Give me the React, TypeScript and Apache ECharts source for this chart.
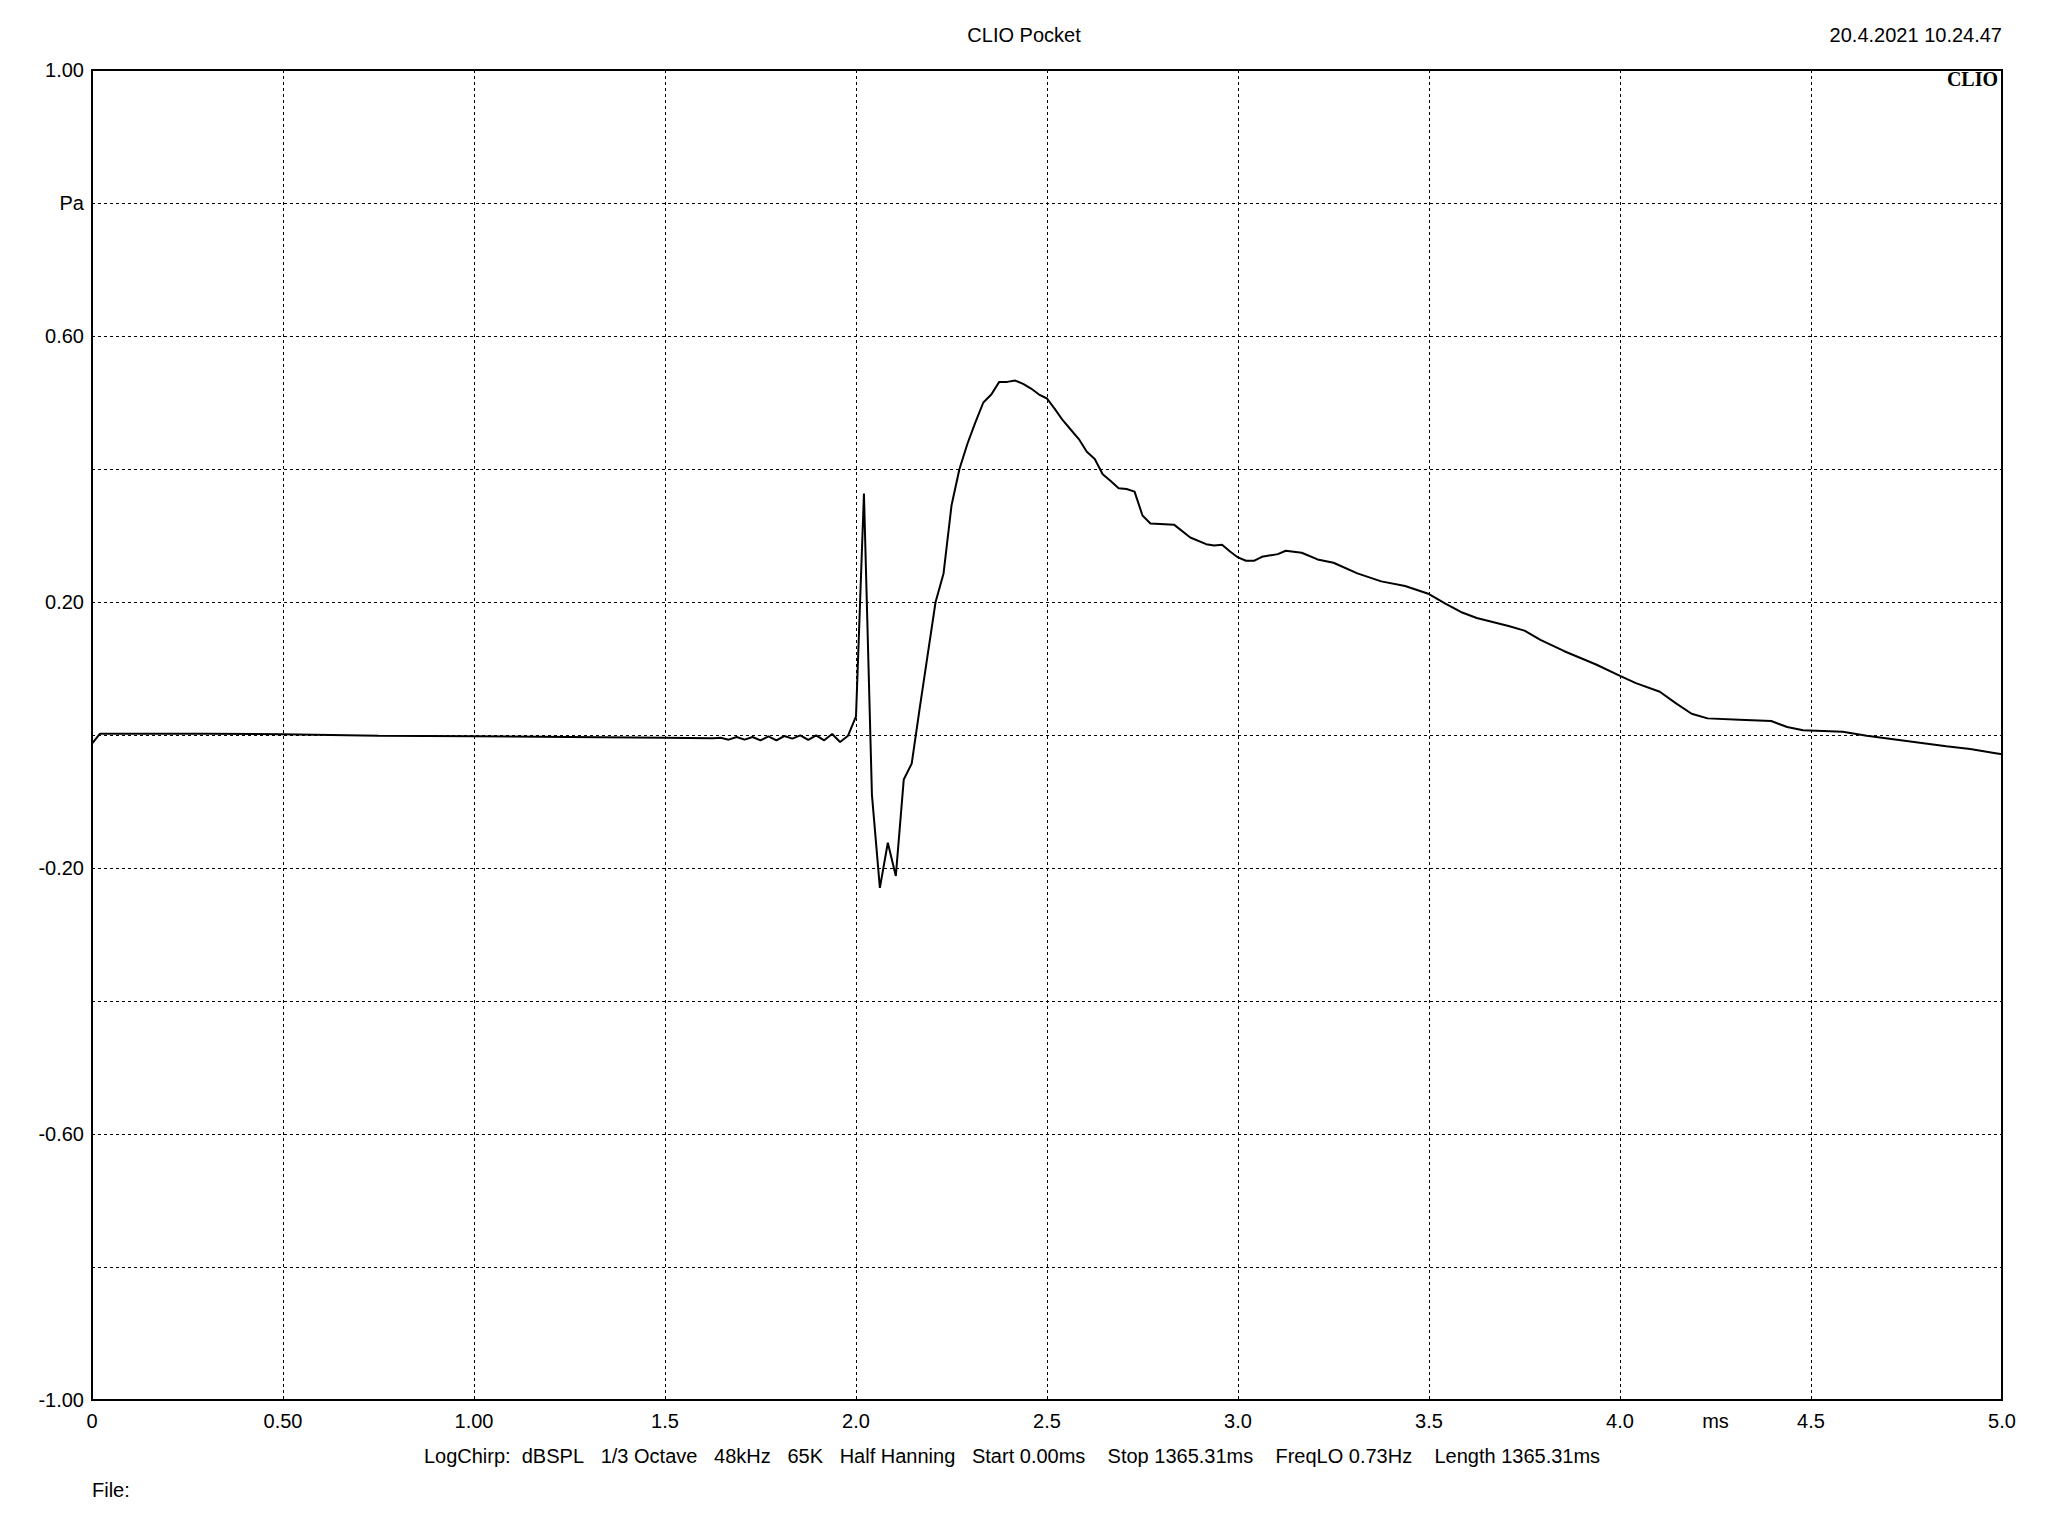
import React, { useEffect, useRef } from "react";
import * as echarts from "echarts";

// Impulse response samples (time in ms, pressure in Pa)
const timeMs: number[] = [
  0.0, 0.021, 0.1, 0.3, 0.5, 0.75, 1.0, 1.25, 1.5, 1.625,
  1.6458, 1.6667, 1.6875, 1.7083, 1.7292, 1.75, 1.7708, 1.7917, 1.8125, 1.8333,
  1.8542, 1.875, 1.8958, 1.9167, 1.9375, 1.9583, 1.9792, 2.0, 2.0208, 2.0417,
  2.0625, 2.0833, 2.1042, 2.125, 2.1458, 2.1667, 2.1875, 2.2083, 2.2292, 2.25,
  2.2708, 2.2917, 2.3125, 2.3333, 2.3542, 2.375, 2.3958, 2.4167, 2.4375, 2.4583,
  2.4792, 2.5, 2.5208, 2.5417, 2.5625, 2.5833, 2.6042, 2.625, 2.6458, 2.6667,
  2.6875, 2.7083, 2.7292, 2.75, 2.7708, 2.8333, 2.875, 2.9167, 2.9375, 2.9583,
  2.9792, 3.0, 3.0208, 3.0417, 3.0625, 3.1042, 3.125, 3.1667, 3.2083, 3.25,
  3.3125, 3.375, 3.4375, 3.5, 3.5417, 3.5833, 3.625, 3.7083, 3.75, 3.7917,
  3.8542, 3.9375, 4.0, 4.0417, 4.1042, 4.1458, 4.1875, 4.2292, 4.3125, 4.3958,
  4.4375, 4.4792, 4.5833, 4.6458, 4.75, 4.8542, 4.9167, 4.9792, 5.0,
];
const pressurePa: number[] = [
  -0.013, 0.002, 0.002, 0.002, 0.001, -0.001, -0.002, -0.003, -0.004, -0.005,
  -0.004, -0.007, -0.003, -0.007, -0.003, -0.008, -0.002, -0.008, -0.0015, -0.0055,
  -0.0005, -0.0075, -0.0005, -0.008, 0.0015, -0.0105, -0.001, 0.028, 0.363, -0.09,
  -0.23, -0.162, -0.212, -0.067, -0.043, 0.04, 0.12, 0.2, 0.243, 0.345,
  0.4, 0.438, 0.47, 0.5, 0.512, 0.531, 0.531, 0.533, 0.528, 0.521,
  0.512, 0.506, 0.49, 0.473, 0.459, 0.445, 0.426, 0.415, 0.392, 0.382,
  0.371, 0.37, 0.366, 0.33, 0.318, 0.316, 0.297, 0.287, 0.285, 0.286,
  0.276, 0.267, 0.262, 0.262, 0.268, 0.272, 0.277, 0.274, 0.264, 0.259,
  0.243, 0.231, 0.224, 0.212, 0.198, 0.185, 0.176, 0.164, 0.157, 0.143,
  0.126, 0.106, 0.089, 0.078, 0.065, 0.048, 0.032, 0.025, 0.023, 0.021,
  0.012, 0.007, 0.005, -0.001, -0.009, -0.017, -0.021, -0.027, -0.029,
];

// Axis tick labels
const xTickValues: number[] = [0, 0.5, 1, 1.5, 2, 2.5, 3, 3.5, 4, 4.5, 5];
const xTickLabels: string[] = ["0", "0.50", "1.00", "1.5", "2.0", "2.5", "3.0", "3.5", "4.0", "4.5", "5.0"];
const yTickValues: number[] = [1, 0.8, 0.6, 0.4, 0.2, 0, -0.2, -0.4, -0.6, -0.8, -1];
const yTickLabels: string[] = ["1.00", "Pa", "0.60", "", "0.20", "", "-0.20", "", "-0.60", "", "-1.00"];

const xUnitLabel = "ms";
const xUnitPosition = 4.25;

const titleText = "CLIO Pocket";
const dateText = "20.4.2021 10.24.47";
const logoText = "CLIO";
const infoParts: string[] = [
  "LogChirp:", "dBSPL", "1/3 Octave", "48kHz", "65K", "Half Hanning",
  "Start 0.00ms", "Stop 1365.31ms", "FreqLO 0.73Hz", "Length 1365.31ms",
];
const infoGaps: string[] = ["\u00a0\u00a0", "\u00a0\u00a0\u00a0", "\u00a0\u00a0\u00a0", "\u00a0\u00a0\u00a0", "\u00a0\u00a0\u00a0", "\u00a0\u00a0\u00a0", "\u00a0\u00a0\u00a0\u00a0", "\u00a0\u00a0\u00a0\u00a0", "\u00a0\u00a0\u00a0\u00a0"];
const fileText = "File:";

const FONT = "'Liberation Sans', Arial, sans-serif";

function lookup(values: number[], labels: string[], v: number): string {
  for (let i = 0; i < values.length; i++) {
    if (Math.abs(values[i] - v) < 1e-6) return labels[i];
  }
  return "";
}

export default function App() {
  const ref = useRef<HTMLDivElement | null>(null);

  useEffect(() => {
    document.body.style.margin = "0";
    if (!ref.current) return;
    const chart = echarts.init(ref.current, null, { renderer: "svg" });

    const data = timeMs.map((t, i) => [t, pressurePa[i]]);
    let info = "";
    infoParts.forEach((p, i) => {
      info += p + (i < infoGaps.length ? infoGaps[i] : "");
    });

    const gridLeft = 92;
    const gridTop = 70;
    const gridW = 1910;
    const gridH = 1330;

    chart.setOption({
      animation: false,
      backgroundColor: "#ffffff",
      grid: {
        left: gridLeft,
        top: gridTop,
        width: gridW,
        height: gridH,
        show: true,
        borderColor: "#000000",
        borderWidth: 2,
        backgroundColor: "transparent",
        z: 10,
      },
      xAxis: {
        type: "value",
        min: 0,
        max: 5,
        interval: 0.5,
        axisLine: { show: false },
        axisTick: { show: false },
        splitLine: { show: true, lineStyle: { color: "#000000", width: 1, type: [3, 3] } },
        axisLabel: {
          show: true,
          margin: 11,
          color: "#000000",
          fontFamily: FONT,
          fontSize: 20,
          formatter: (v: number) => lookup(xTickValues, xTickLabels, v),
        },
      },
      yAxis: {
        type: "value",
        min: -1,
        max: 1,
        interval: 0.2,
        axisLine: { show: false },
        axisTick: { show: false },
        splitLine: { show: true, lineStyle: { color: "#000000", width: 1, type: [3, 3] } },
        axisLabel: {
          show: true,
          margin: 8,
          color: "#000000",
          fontFamily: FONT,
          fontSize: 20,
          formatter: (v: number) => lookup(yTickValues, yTickLabels, v),
        },
      },
      series: [
        {
          type: "line",
          data,
          showSymbol: false,
          symbol: "none",
          lineStyle: { color: "#000000", width: 2 },
          z: 5,
        },
      ],
    });

    const msPt = chart.convertToPixel({ xAxisIndex: 0 }, xUnitPosition) as number;

    chart.setOption({
      graphic: [
        {
          type: "text",
          x: 1024,
          y: 35,
          style: { text: titleText, fill: "#000", font: `20px ${FONT}`, align: "center", verticalAlign: "middle" },
        },
        {
          type: "text",
          x: 2002,
          y: 35,
          style: { text: dateText, fill: "#000", font: `20px ${FONT}`, align: "right", verticalAlign: "middle" },
        },
        {
          type: "text",
          x: 1998,
          y: 79,
          z: 20,
          style: { text: logoText, fill: "#000", font: `bold 20px 'Liberation Serif', 'Times New Roman', serif`, align: "right", verticalAlign: "middle" },
        },
        {
          type: "text",
          x: msPt,
          y: gridTop + gridH + 21,
          style: { text: xUnitLabel, fill: "#000", font: `20px ${FONT}`, align: "center", verticalAlign: "middle" },
        },
        {
          type: "text",
          x: 1012,
          y: 1456,
          style: { text: info, fill: "#000", font: `20px ${FONT}`, align: "center", verticalAlign: "middle" },
        },
        {
          type: "text",
          x: 92,
          y: 1490,
          style: { text: fileText, fill: "#000", font: `20px ${FONT}`, align: "left", verticalAlign: "middle" },
        },
      ],
    });

    return () => {
      chart.dispose();
    };
  }, []);

  return <div ref={ref} style={{ width: 2048, height: 1536 }} />;
}
